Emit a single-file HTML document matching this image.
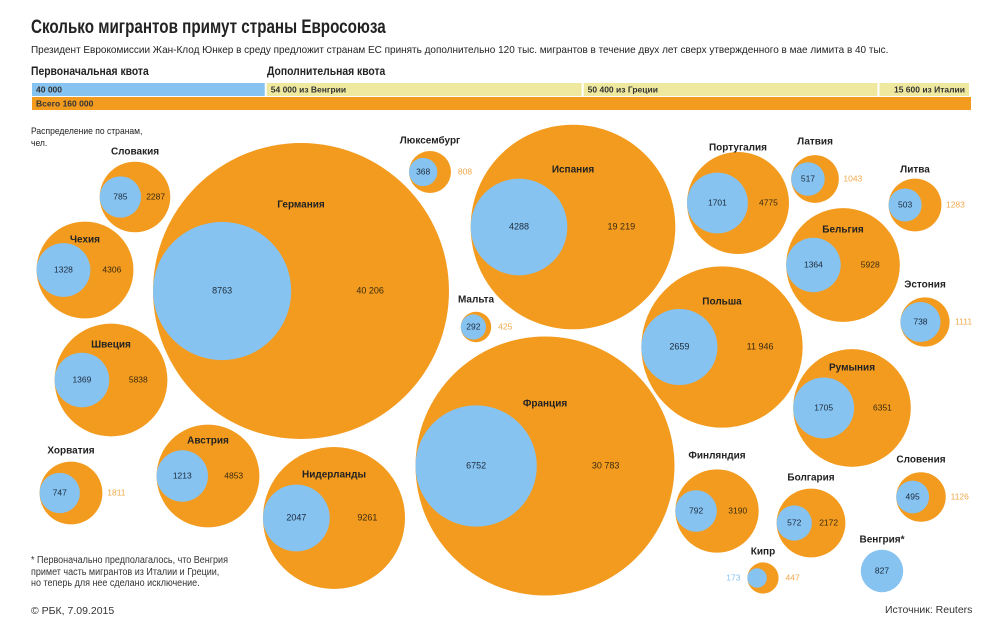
<!DOCTYPE html>
<html><head><meta charset="utf-8">
<style>
html,body{margin:0;padding:0;background:#fff;}
body{width:1005px;height:632px;position:relative;overflow:hidden;font-family:"Liberation Sans","Noto Sans CJK SC",sans-serif;color:#222;}
.t{position:absolute;white-space:nowrap;}
</style></head>
<body>
<div class="t" style="left:31px;top:17px;font-size:19px;font-weight:bold;transform:scaleX(0.8);transform-origin:left;">Сколько мигрантов примут страны Евросоюза</div>
<div class="t" style="left:31px;top:44px;font-size:10.5px;transform:scaleX(0.95);transform-origin:left;">Президент Еврокомиссии Жан-Клод Юнкер в среду предложит странам ЕС принять дополнительно 120 тыс. мигрантов в течение двух лет сверх утвержденного в мае лимита в 40 тыс.</div>
<div class="t" style="left:31px;top:66px;font-size:11.5px;font-weight:bold;transform:scaleX(0.9);transform-origin:left;">Первоначальная квота</div>
<div class="t" style="left:267px;top:66px;font-size:11.5px;font-weight:bold;transform:scaleX(0.9);transform-origin:left;">Дополнительная квота</div>
<svg width="1005" height="632" style="position:absolute;left:0;top:0" font-family="Liberation Sans, sans-serif">
<g id="bars"></g><g id="bubbles"></g>
</svg>
<div class="t" style="left:31px;top:126px;font-size:9.5px;line-height:12px;transform:scaleX(0.9);transform-origin:left;">Распределение по странам,<br>чел.</div>
<div class="t" style="left:31px;top:555px;font-size:10px;line-height:11.5px;color:#333;transform:scaleX(0.9);transform-origin:left;">* Первоначально предполагалось, что Венгрия<br>примет часть мигрантов из Италии и Греции,<br>но теперь для нее сделано исключение.</div>
<div class="t" style="left:31px;top:605px;font-size:10.5px;color:#333;">© РБК, 7.09.2015</div>
<div class="t" style="left:885px;top:604px;font-size:10.5px;color:#333;">Источник: Reuters</div>
<script>
const NS="http://www.w3.org/2000/svg";
const quotaLabels=["40 000","54 000 из Венгрии","50 400 из Греции","15 600 из Италии"];
const quotaValues=[40000,54000,50400,15600];
const totalLabel="Всего  160 000";
const countries=["Словакия","Чехия","Швеция","Хорватия","Австрия","Германия","Нидерланды","Люксембург","Мальта","Испания","Франция","Польша","Португалия","Финляндия","Кипр","Латвия","Бельгия","Румыния","Болгария","Литва","Эстония","Словения","Венгрия*"];
const firstVals=[785,1328,1369,747,1213,8763,2047,368,292,4288,6752,2659,1701,792,173,517,1364,1705,572,503,738,495,827];
const totalVals=[2287,4306,5838,1811,4853,40206,9261,808,425,19219,30783,11946,4775,3190,447,1043,5928,6351,2172,1283,1111,1126,0];
// layout (positions, not data): cx, cy, label y, outside-label flag
const layout=[[135,197,152,0],[85,270,240,0],[111,380,345,0],[71,493,451,1],[208,476,441,0],[301,291,205,0],[334,518,475,0],[430,172,141,1],[476,327,300,1],[573,227,170,0],[545,466,404,0],[722,347,302,0],[738,203,148,0],[717,511,456,0],[763,578,552,2],[815,179,142,1],[843,265,230,0],[852,408,368,0],[811,523,478,0],[915,205,170,1],[925,322,285,1],[921,497,460,1],[882,571,540,0]];
const K=0.738;
function rad(v){return K*Math.sqrt(v);}
function mk(tag,attrs,parent){const e=document.createElementNS(NS,tag);for(const k in attrs)e.setAttribute(k,attrs[k]);parent.appendChild(e);return e;}
function txt(parent,x,y,s,size,fill,weight,anchor){const t=mk("text",{x:x,y:y,"font-size":size,fill:fill,"font-weight":weight||"normal","text-anchor":anchor||"middle","dominant-baseline":"middle"},parent);t.textContent=s;return t;}
const bars=document.getElementById("bars");
const total=quotaValues.reduce((a,b)=>a+b,0);
const x0=32,x1=971,W=x1-x0;
let cx=x0;
quotaValues.forEach((v,i)=>{
  const w=v/total*W;
  const r=mk("rect",{x:cx,y:83,width:w-2,height:13,fill:i===0?"#86c3f1":"#efe9a0"},bars);
  
  
  const anchor=(i===3)?"end":"start";
  const t=txt(bars,i===3?cx+w-6:cx+4,90,quotaLabels[i],8.5,"#333","bold",anchor);
  
  
  cx+=w;
});
const tb=mk("rect",{x:x0,y:97,width:W,height:13,fill:"#f39b1e"},bars);


const tl=txt(bars,36,104,totalLabel,8.5,"#333","bold","start");


const g=document.getElementById("bubbles");
countries.forEach((name,i)=>{
  const [x,y,ly,out]=layout[i];
  const grp=mk("g",{},g);
  
  
  const tv=totalVals[i],fv=firstVals[i];
  const R=tv>0?rad(tv):rad(fv);
  const r=rad(fv);
  let bx=x;
  if(tv>0){
    const o=mk("circle",{cx:x,cy:y,r:R,fill:"#f39b1e"},grp);
    
    
    bx=x-R+r;
  }
  const b=mk("circle",{cx:bx,cy:y,r:r,fill:"#86c3f1"},grp);
  
  
  const fs=R>60?9:8.5;
  if(out===2){
    txt(grp,x-R-14,y,String(fv),8.5,"#86c3f1");
  } else {
    txt(grp,bx,y,String(fv),fs,"#1d2a3a");
  }
  if(tv>0){
    const s=tv>=10000?String(tv).replace(/(\d+)(\d{3})$/,"$1 $2"):String(tv);
    if(out){ txt(grp,x+R+14,y,s,8.5,"#f0a94a"); }
    else { txt(grp,(bx+r+x+R)/2,y,s,fs,"#3a2a10"); }
  }
  const lab=txt(grp,x,ly,name,10,"#222","bold");
  
  
});
</script>
</body></html>
